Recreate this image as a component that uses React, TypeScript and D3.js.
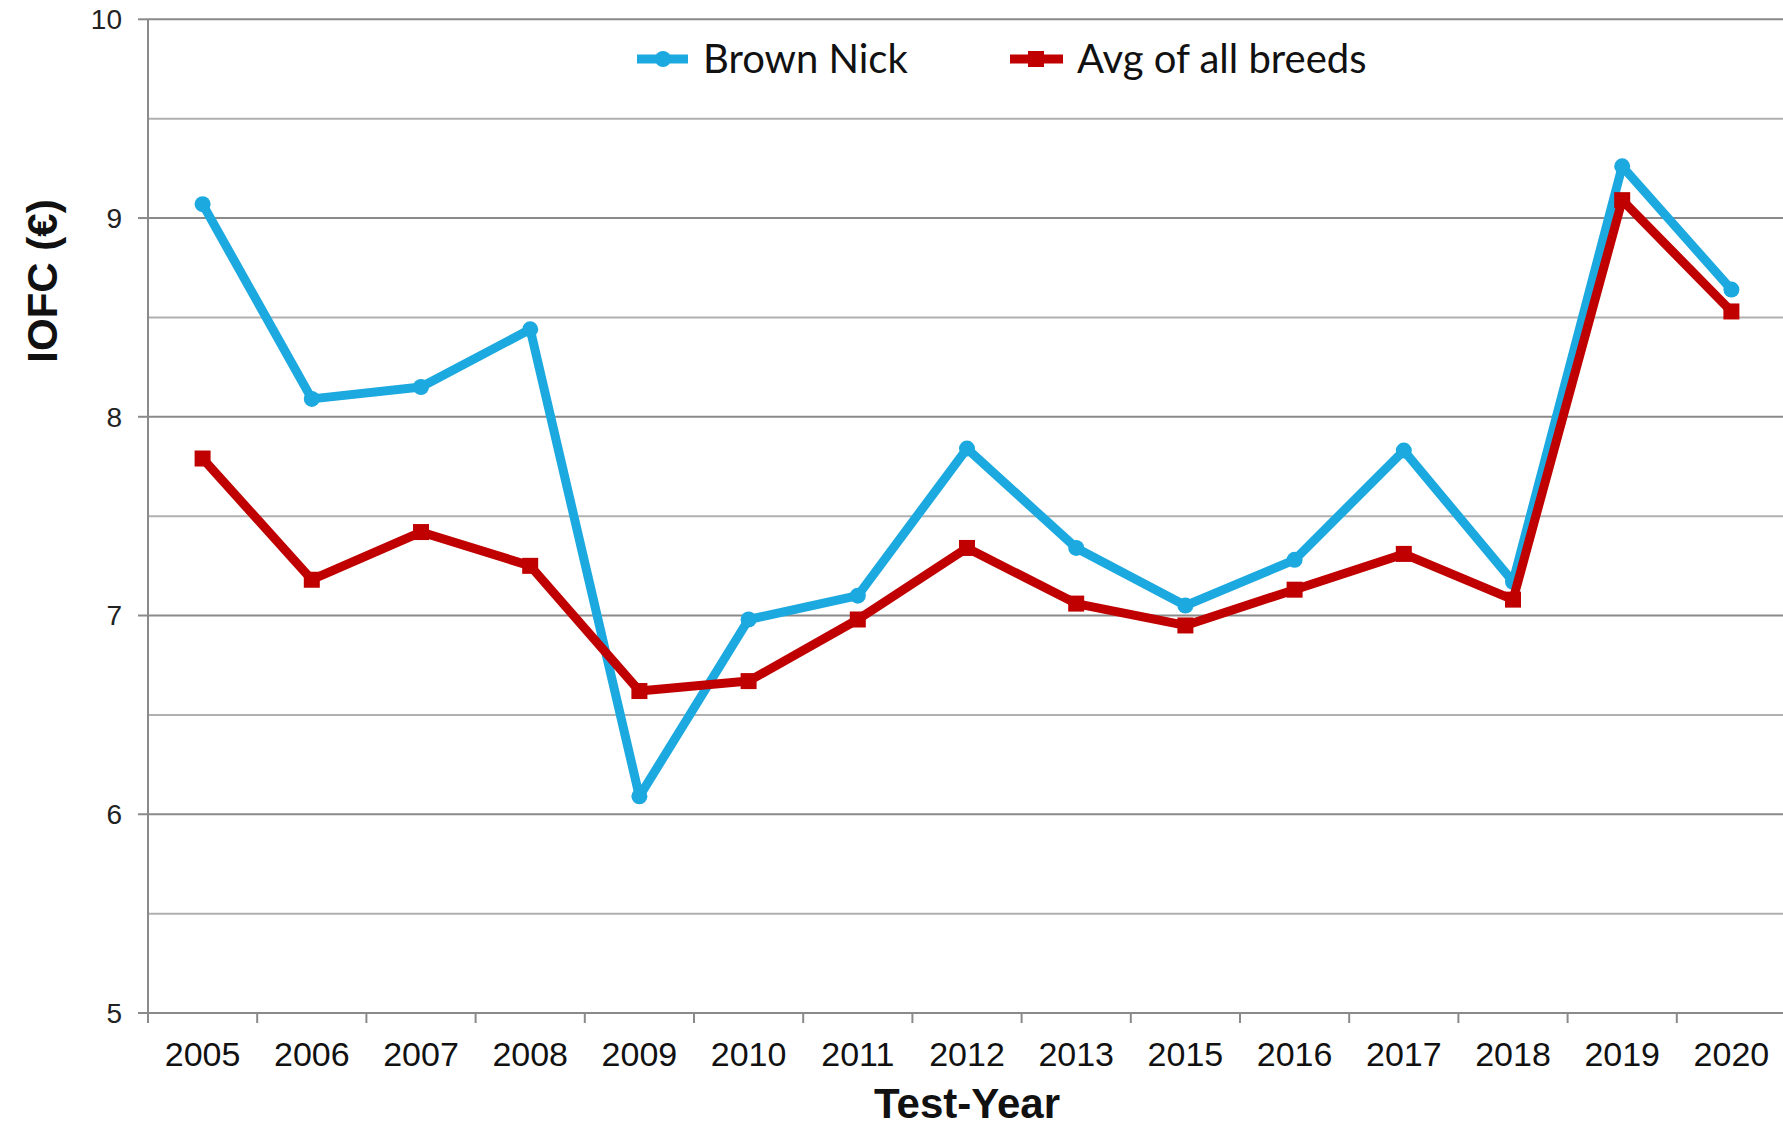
import React from "react";
import * as d3 from "d3";

const years = ["2005","2006","2007","2008","2009","2010","2011","2012","2013","2015","2016","2017","2018","2019","2020"];
const brownNick = [9.07, 8.09, 8.15, 8.44, 6.09, 6.98, 7.10, 7.84, 7.34, 7.05, 7.28, 7.83, 7.17, 9.26, 8.64];
const avgAll = [7.79, 7.18, 7.42, 7.25, 6.62, 6.67, 6.98, 7.34, 7.06, 6.95, 7.13, 7.31, 7.08, 9.09, 8.53];
const yTicks = [5, 6, 7, 8, 9, 10];
const yGrid = [5.5, 6, 6.5, 7, 7.5, 8, 8.5, 9, 9.5, 10];
const seriesNames = ["Brown Nick", "Avg of all breeds"];

const W = 1783, H = 1127;
const left = 148, right = 1786, top = 19.3, bottom = 1013;
const BLUE = "#1BA9DF";
const RED = "#C00000";

export default function App() {
  const x = d3.scaleBand<string>().domain(years).range([left, right]).padding(0);
  const y = d3.scaleLinear().domain([5, 10]).range([bottom, top]);
  const cx = (d: string) => (x(d) as number) + x.bandwidth() / 2;
  const line = d3.line<number>().x((_, i) => cx(years[i])).y((v) => y(v));
  const boundaries = years.map((d) => x(d) as number).concat([right]);
  const font = "'Liberation Sans', Arial, sans-serif";
  const legendFont = "Lato, 'Open Sans', sans-serif";
  return (
    <svg width={W} height={H} style={{ position: "absolute", left: 0, top: 0, background: "#fff" }}>
      {yGrid.map((g) => (
        <line key={g} x1={left} x2={W} y1={y(g)} y2={y(g)}
          stroke={Number.isInteger(g) ? "#8a8a8a" : "#b0b0b0"} strokeWidth={2} />
      ))}
      <line x1={left} x2={W} y1={bottom} y2={bottom} stroke="#8a8a8a" strokeWidth={2} />
      <line x1={left} x2={left} y1={top} y2={bottom + 10} stroke="#8a8a8a" strokeWidth={2} />
      {yTicks.map((t) => (
        <g key={t}>
          <line x1={left - 10} x2={left} y1={y(t)} y2={y(t)} stroke="#8a8a8a" strokeWidth={2} />
          <text x={left - 26} y={y(t)} dy="0.35em" textAnchor="end" fontFamily={font} fontSize={28} fill="#222">{t}</text>
        </g>
      ))}
      {boundaries.map((b, i) => (
        <line key={i} x1={b} x2={b} y1={bottom} y2={bottom + 10} stroke="#8a8a8a" strokeWidth={2} />
      ))}
      {years.map((d) => (
        <text key={d} x={cx(d)} y={1066} textAnchor="middle" fontFamily={font} fontSize={34} fill="#111">{d}</text>
      ))}
      <text x={967} y={1118} textAnchor="middle" fontFamily={font} fontSize={42} fontWeight="bold" fill="#111">Test-Year</text>
      <text transform={`translate(57,${281}) rotate(-90)`} textAnchor="middle" fontFamily={font} fontSize={42} fontWeight="bold" fill="#111">IOFC (€)</text>

      <path d={line(brownNick) || ""} fill="none" stroke={BLUE} strokeWidth={9} strokeLinejoin="round" />
      {brownNick.map((v, i) => (
        <circle key={i} cx={cx(years[i])} cy={y(v)} r={8} fill={BLUE} />
      ))}
      <path d={line(avgAll) || ""} fill="none" stroke={RED} strokeWidth={9} strokeLinejoin="round" />
      {avgAll.map((v, i) => (
        <rect key={i} x={cx(years[i]) - 8} y={y(v) - 8} width={16} height={16} fill={RED} />
      ))}

      <g>
        <line x1={637} x2={688} y1={59} y2={59} stroke={BLUE} strokeWidth={9} />
        <circle cx={663} cy={59} r={8} fill={BLUE} />
        <text x={703} y={59} dy="0.35em" fontFamily={legendFont} fontSize={40} fill="#111">{seriesNames[0]}</text>
        <line x1={1010} x2={1063} y1={59} y2={59} stroke={RED} strokeWidth={9} />
        <rect x={1036 - 8} y={59 - 8} width={16} height={16} fill={RED} />
        <text x={1077} y={59} dy="0.35em" fontFamily={legendFont} fontSize={40} fill="#111">{seriesNames[1]}</text>
      </g>
    </svg>
  );
}
